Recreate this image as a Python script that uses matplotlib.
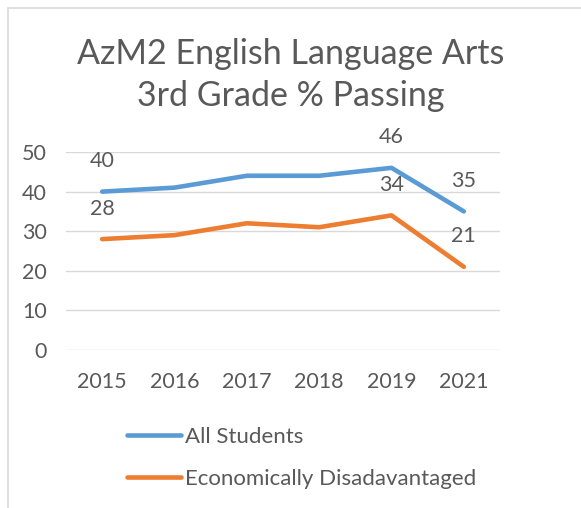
import matplotlib
matplotlib.use("Agg")
import matplotlib.pyplot as plt
from matplotlib.patches import Rectangle

years = ["2015", "2016", "2017", "2018", "2019", "2021"]
all_students = [40, 41, 44, 44, 46, 35]
econ_disadv = [28, 29, 32, 31, 34, 21]
labeled_idx = [0, 4, 5]
series_names = ["All Students", "Economically Disadavantaged"]
title = "AzM2 English Language Arts\n3rd Grade % Passing"

plt.rcParams['font.family'] = ['Lato', 'DejaVu Sans']
txt = "#595959"
blue = "#5B9BD5"
orange = "#ED7D31"

fig = plt.figure(figsize=(5.81, 5.08), dpi=100)
fig.patches.append(Rectangle((8/581, -0.1), 1.2, (508-8)/508 + 0.1, transform=fig.transFigure,
                             fill=False, edgecolor="#d9d9d9", linewidth=1.2))
ax = fig.add_axes([66/581, 158/508, (500-66)/581, (350-152)/508])
x = list(range(len(years)))
l1, = ax.plot(x, all_students, color=blue, lw=3.3, solid_capstyle='round', label=series_names[0])
l2, = ax.plot(x, econ_disadv, color=orange, lw=3.3, solid_capstyle='round', label=series_names[1])
for vals in (all_students, econ_disadv):
    for i in labeled_idx:
        ax.annotate(str(vals[i]), (x[i], vals[i]), xytext=(0, 22), textcoords='offset points',
                    ha='center', va='center', fontsize=15.5, color=txt, annotation_clip=False)
ax.set_xlim(-0.5, 5.5)
ax.set_ylim(0, 50)
ax.set_yticks(range(0, 51, 10))
ax.set_xticks(x)
ax.set_xticklabels(years)
ax.grid(axis='y', color="#d9d9d9", lw=1)
ax.set_axisbelow(True)
for s in ax.spines.values():
    s.set_visible(False)
ax.tick_params(length=0, labelsize=15.5, labelcolor=txt)
ax.tick_params(axis='x', pad=16)
ax.tick_params(axis='y', pad=14)
fig.text(0.5, 1 - 75/508, title, ha='center', va='center', fontsize=24.5, color=txt, linespacing=1.42)
fig.legend(handles=[l1, l2], loc='upper left', bbox_to_anchor=(107/581, 1 - 407/508),
           frameon=False, fontsize=16, labelcolor=txt, handlelength=2.45, handletextpad=0.15,
           labelspacing=1.0)
fig.savefig("out.png", dpi=100)
